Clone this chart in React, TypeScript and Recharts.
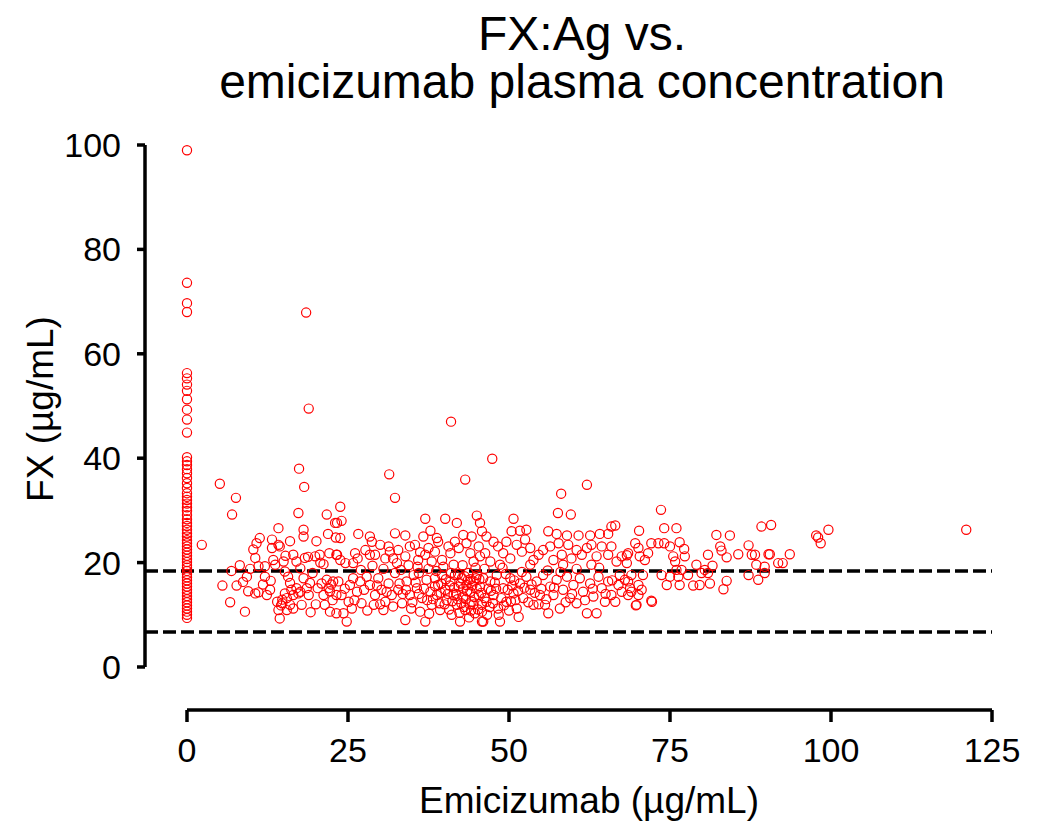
import React from 'react';
import {
  ScatterChart,
  Scatter,
  XAxis,
  YAxis,
  ReferenceLine,
} from 'recharts';

// tick labels
const xTicks = [0, 25, 50, 75, 100, 125];
const yTicks = [0, 20, 40, 60, 80, 100];

// reference range (dashed lines)
const upperLimit = 18.4;
const lowerLimit = 6.7;

// FX values of patients with no emicizumab (x = 0)
const baselineFX = [
  99.0, 73.6, 69.7, 68.0, 56.3, 55.3, 54.1, 52.9, 51.3, 49.3, 47.4, 44.9, 40.2, 39.4, 38.7,
  37.9, 37.1, 36.2, 35.2, 34.3, 33.3, 32.6, 32.0, 31.3, 30.6, 29.9, 29.1, 28.3, 27.6, 27.0,
  26.3, 25.6, 25.0, 24.3, 23.7, 23.1, 22.5, 21.9, 21.3, 20.7, 20.1, 19.5, 19.0, 18.4, 17.8,
  17.2, 16.6, 16.0, 15.4, 14.8, 14.2, 13.6, 13.0, 12.4, 11.8, 11.2, 10.6, 10.0, 9.4,
];

// [emicizumab, FX] for samples under treatment
const treatedPairs: [number, number][] = [
  [2.3, 23.4], [5.1, 35.1], [7.6, 32.4], [7.0, 29.2], [18.5, 67.9], [18.9, 49.5], [17.4, 38.0],
  [18.2, 34.5], [31.4, 36.9], [32.3, 32.4], [41.0, 47.0], [43.2, 35.9], [47.4, 39.9], [58.1, 33.2],
  [62.1, 34.9], [73.6, 30.1], [121.0, 26.3], [99.6, 26.3],
  [5.5, 15.6], [6.7, 12.4], [9.0, 10.6], [6.9, 18.4], [7.7, 15.6], [8.7, 16.3], [9.5, 14.5],
  [9.3, 17.3], [10.3, 22.5], [10.6, 20.9], [10.8, 23.7], [11.3, 24.7], [11.1, 19.3], [10.6, 14.1],
  [11.1, 14.3], [12.1, 19.3], [12.1, 17.3], [12.4, 13.8], [12.9, 14.8], [13.2, 24.4], [13.2, 22.8],
  [13.4, 20.5], [13.7, 19.6], [14.2, 26.6], [14.2, 23.4], [14.0, 12.5], [14.2, 10.9], [14.4, 9.3],
  [14.6, 11.8], [14.8, 12.9], [15.2, 14.1], [14.4, 23.1], [15.0, 20.2], [15.2, 18.3], [15.3, 21.3],
  [15.7, 17.3], [16.0, 24.1], [16.0, 16.1], [16.2, 14.8], [16.5, 21.5], [16.5, 13.8], [17.0, 20.2],
  [17.3, 29.5], [17.6, 18.9], [17.6, 14.4], [17.8, 11.9], [18.1, 26.3], [18.1, 25.0], [18.1, 17.0],
  [18.3, 20.9], [18.6, 15.1], [18.8, 21.1], [18.9, 13.8], [19.1, 16.1], [19.9, 21.2], [20.1, 24.1],
  [20.3, 15.1], [20.6, 21.5], [20.7, 20.0], [21.2, 19.7], [21.7, 29.2], [21.9, 25.5], [22.1, 21.8],
  [22.2, 14.5], [22.4, 15.8], [22.6, 12.8], [23.0, 27.6], [23.1, 24.8], [23.2, 10.3], [23.2, 21.5],
  [23.8, 30.7], [21.2, 13.8], [21.4, 11.9], [22.0, 15.1], [22.2, 10.6], [22.7, 16.4], [23.2, 13.8],
  [20.9, 16.0], [21.7, 16.7], [14.8, 12.2], [15.5, 13.2], [16.0, 11.9], [17.0, 15.1], [17.3, 14.1],
  [16.5, 11.2], [15.5, 10.9], [19.5, 18.0], [20.0, 12.0], [19.2, 10.5], [13.0, 16.5], [11.8, 15.8],
  [9.8, 18.8], [8.2, 19.5],
  [24.0, 28.0], [23.3, 27.6], [23.8, 24.7], [26.6, 25.5], [37.0, 28.4], [40.1, 28.4], [41.9, 27.6],
  [45.0, 29.0], [37.8, 26.1], [32.3, 25.6], [33.9, 25.2], [28.4, 25.0], [28.7, 24.0],
  [23.3, 21.5], [23.8, 20.5], [24.6, 19.9], [25.8, 19.9], [26.1, 21.8], [27.7, 22.4], [28.4, 21.5],
  [29.2, 21.5], [30.0, 23.4], [30.8, 20.8], [31.3, 23.1], [31.5, 22.1], [32.6, 19.9], [32.8, 22.4],
  [33.9, 21.2], [34.6, 23.1], [35.4, 23.4], [35.9, 20.5], [36.7, 25.0], [37.0, 21.5], [37.5, 22.8],
  [38.0, 20.2], [38.5, 22.1], [38.8, 24.7], [39.0, 24.0], [39.6, 20.5], [40.6, 23.1], [40.9, 21.8],
  [41.4, 19.6], [41.6, 24.0], [42.2, 22.8], [42.9, 25.3], [43.4, 23.7], [44.0, 21.8], [44.2, 25.0],
  [44.5, 20.2], [45.3, 23.1], [45.8, 26.0], [45.5, 21.2],
  [23.5, 16.4], [24.0, 13.8], [24.3, 10.3], [24.8, 8.7], [25.1, 12.5], [25.6, 11.2], [25.3, 15.7],
  [25.8, 17.0], [26.4, 14.4], [26.9, 16.4], [27.1, 12.2], [27.9, 17.3], [28.4, 15.7], [29.0, 11.9],
  [29.2, 13.8], [29.7, 17.0], [30.2, 14.8], [30.5, 10.9], [30.8, 12.5], [31.3, 16.0], [31.8, 13.8],
  [32.3, 18.0], [32.8, 14.8], [33.4, 12.2], [33.9, 9.0], [34.1, 16.4], [34.6, 13.8], [35.2, 17.6],
  [35.7, 15.1], [36.2, 10.6], [36.5, 13.2], [37.0, 8.7], [37.2, 16.7], [37.8, 14.4], [38.0, 11.9],
  [38.5, 17.0], [38.8, 13.8], [39.0, 15.7], [39.3, 10.9], [39.6, 17.6], [40.1, 14.8], [40.3, 12.8],
  [40.9, 16.4], [41.1, 10.0], [41.4, 13.8], [41.6, 17.6], [41.9, 11.9], [42.2, 15.4], [42.4, 8.7],
  [42.7, 17.0], [42.9, 13.5], [43.2, 10.9], [43.4, 15.7], [43.7, 18.0], [44.0, 14.4], [44.2, 12.5],
  [44.5, 16.4], [44.7, 10.3], [45.0, 17.6], [45.3, 13.8], [45.5, 15.4], [45.8, 11.9], [46.0, 17.0],
  [45.8, 8.7], [39.5, 16.0], [40.5, 14.0], [41.0, 18.0], [42.0, 13.0], [42.5, 16.0], [43.0, 11.5],
  [43.5, 14.5], [44.0, 16.8], [44.5, 12.0], [45.0, 15.0], [41.5, 15.2], [40.0, 12.0], [38.5, 15.5],
  [43.8, 9.5], [42.8, 19.5], [44.8, 19.0], [39.8, 19.2], [37.5, 18.8],
  [34.0, 14.8], [35.0, 12.4], [35.5, 16.2], [36.0, 18.0], [36.8, 15.0], [37.3, 12.8], [37.6, 10.2],
  [38.2, 13.0], [38.7, 18.4], [39.2, 12.2], [39.4, 14.2], [40.2, 16.8], [40.7, 11.0], [40.8, 15.6],
  [41.2, 12.6], [41.8, 14.0], [42.1, 17.8], [42.3, 10.4], [42.6, 12.2], [42.9, 15.0], [43.1, 17.4],
  [43.3, 13.0], [43.6, 16.6], [43.9, 12.0], [44.1, 10.8], [44.3, 15.6], [44.6, 13.4], [44.9, 17.0],
  [45.2, 11.0], [45.4, 16.8], [45.7, 14.2], [46.2, 13.2], [46.6, 10.0], [47.2, 14.6], [47.5, 12.2],
  [48.0, 15.0], [48.4, 10.0], [49.2, 11.8], [49.8, 14.8], [50.3, 12.6], [50.8, 16.6], [51.4, 14.6],
  [52.4, 15.2], [53.0, 12.4], [54.0, 14.2], [54.6, 12.0], [55.8, 13.0], [57.0, 15.2], [58.8, 12.4],
  [59.8, 14.0], [61.8, 12.8], [63.0, 15.0], [65.0, 14.0], [66.0, 16.6],
  [26.0, 12.8], [27.5, 14.8], [28.0, 10.8], [29.5, 15.6], [30.0, 12.0], [31.0, 14.4], [32.0, 11.6],
  [33.0, 16.0], [33.5, 14.0], [34.8, 11.2], [36.0, 14.0], [24.5, 15.0], [27.0, 18.6], [30.5, 18.8],
  [33.2, 18.6], [35.8, 19.2], [28.8, 19.4], [26.5, 20.8], [32.0, 20.8], [36.2, 22.0], [34.4, 19.5],
  [57.6, 29.5], [59.6, 29.2], [50.7, 28.4], [45.5, 27.6], [46.5, 25.0], [50.4, 26.0], [51.7, 26.1],
  [52.7, 26.3], [56.1, 26.0], [57.4, 25.5], [59.0, 25.2], [60.8, 25.2], [62.6, 25.2], [64.1, 25.5],
  [65.4, 25.5], [65.9, 26.9], [66.5, 27.1], [68.3, 21.4],
  [47.6, 24.0], [48.3, 23.1], [49.1, 21.8], [49.6, 24.0], [50.2, 20.8], [51.2, 23.4], [52.0, 22.1],
  [52.5, 24.4], [53.3, 22.8], [53.8, 20.5], [54.6, 21.5], [55.3, 22.4], [56.4, 23.1], [56.9, 20.5],
  [57.7, 23.7], [58.2, 21.5], [59.2, 23.4], [59.7, 20.8], [60.5, 22.4], [61.3, 21.5], [62.1, 22.8],
  [62.8, 23.4], [63.6, 21.2], [64.4, 23.1], [65.4, 21.5], [65.9, 23.1], [66.7, 20.2], [67.5, 21.2],
  [68.3, 19.9], [47.1, 20.2], [46.3, 21.8], [48.6, 19.6], [53.3, 19.6], [58.4, 19.6], [62.8, 19.6],
  [45.8, 10.6], [46.0, 8.7], [46.5, 12.5], [47.1, 16.4], [47.6, 13.8], [48.1, 17.6], [48.3, 11.2],
  [48.6, 8.7], [49.1, 15.1], [49.6, 12.5], [50.2, 17.0], [50.7, 14.1], [51.2, 11.2], [51.5, 9.6],
  [51.7, 16.0], [52.2, 13.2], [52.7, 17.3], [53.3, 14.8], [53.8, 11.9], [54.3, 16.4], [54.8, 13.8],
  [55.3, 17.6], [55.6, 11.9], [56.1, 10.3], [56.4, 15.4], [56.9, 13.8], [57.4, 16.7], [57.9, 11.2],
  [58.4, 14.8], [59.0, 17.3], [59.5, 13.2], [60.0, 15.7], [60.5, 12.2], [61.0, 17.0], [61.5, 14.4],
  [62.1, 10.3], [62.6, 16.0], [63.1, 13.5], [63.6, 10.3], [63.9, 17.3], [64.4, 15.1], [64.9, 12.5],
  [65.4, 16.4], [65.9, 13.8], [66.5, 12.5], [67.0, 15.7], [67.5, 14.4], [68.0, 16.7], [68.5, 13.8],
  [67.2, 17.6], [46.8, 15.0], [47.8, 16.2], [48.8, 13.2], [49.5, 17.8], [50.5, 15.6], [51.0, 12.8],
  [52.0, 18.2], [46.2, 18.8], [49.0, 19.0], [47.0, 11.5], [50.0, 10.8], [53.5, 15.8], [55.0, 15.0],
  [56.0, 18.5], [58.0, 18.2], [60.5, 18.8], [64.0, 19.0],
  [70.2, 26.1], [74.1, 26.6], [76.0, 26.6], [82.2, 25.3], [84.3, 25.2], [89.2, 26.9], [90.7, 27.2],
  [69.6, 23.7], [72.1, 23.7], [73.2, 23.7], [74.1, 23.7], [75.0, 23.1], [76.5, 23.9], [77.2, 22.6],
  [77.3, 21.2], [75.5, 21.2], [75.8, 20.2], [76.0, 18.6], [76.8, 18.6], [71.6, 21.8], [71.1, 20.5],
  [68.5, 21.8], [70.1, 22.8], [70.3, 21.2], [82.8, 23.1], [83.0, 22.3], [80.9, 21.5], [83.8, 21.0],
  [85.6, 21.6], [87.2, 23.3], [87.7, 21.5], [88.2, 21.5], [90.3, 21.6], [79.1, 19.6], [80.4, 18.6],
  [81.6, 19.4], [88.4, 19.6], [89.7, 19.2], [69.0, 17.6], [70.8, 17.6], [73.7, 17.6], [75.0, 17.3],
  [76.3, 17.3], [77.8, 17.6], [79.9, 18.0], [80.9, 18.0], [87.2, 17.6], [88.7, 16.7], [89.7, 18.0],
  [68.5, 16.4], [70.1, 15.7], [74.5, 15.7], [76.5, 15.7], [78.6, 15.6], [79.6, 15.7], [81.2, 16.0],
  [83.8, 16.5], [83.3, 14.9], [69.0, 14.4], [70.1, 13.8], [72.1, 12.7], [69.8, 11.9], [68.8, 15.1],
  [70.6, 14.8], [69.7, 11.8], [72.2, 12.5],
  [97.7, 25.2], [98.0, 24.8], [98.4, 23.7], [93.6, 21.6], [91.8, 19.9], [92.5, 19.9], [90.5, 21.6],
];

const points = [
  ...baselineFX.map((fx) => ({ x: 0, y: fx })),
  ...treatedPairs.map(([x, y]) => ({ x, y })),
];

const FONT = '"Liberation Sans", Arial, sans-serif';
const X_MIN = -6.52;
const Y_MIN = -8.24;

const Ring = (props: any) => (
  <circle cx={props.cx} cy={props.cy} r={4.6} fill="none" stroke="#ff0000" strokeWidth={1.2} />
);

const App = () => {
  return (
    <div style={{ position: 'relative', width: 1033, height: 816, fontFamily: FONT }}>
      <ScatterChart
        width={1033}
        height={816}
        margin={{ top: 137, right: 49, bottom: 34, left: 37 }}
      >
        <XAxis
          type="number"
          dataKey="x"
          domain={[X_MIN, 125]}
          ticks={xTicks}
          interval={0}
          allowDataOverflow
          axisLine={false}
          tickSize={12}
          tickMargin={16}
          height={80}
          tickLine={{ stroke: '#000', strokeWidth: 3.5 }}
          tick={{ fill: '#000', fontSize: 34, fontFamily: FONT }}
        />
        <YAxis
          type="number"
          dataKey="y"
          domain={[Y_MIN, 100]}
          ticks={yTicks}
          interval={0}
          allowDataOverflow
          axisLine={false}
          tickSize={8}
          tickMargin={16}
          width={100}
          tickLine={{ stroke: '#000', strokeWidth: 3.5 }}
          tick={{ fill: '#000', fontSize: 34, fontFamily: FONT }}
        />
        <ReferenceLine
          segment={[{ x: X_MIN, y: 0 }, { x: X_MIN, y: 100 }]}
          stroke="#000"
          strokeWidth={3.5}
          ifOverflow="visible"
        />
        <ReferenceLine
          segment={[{ x: 0, y: Y_MIN }, { x: 125, y: Y_MIN }]}
          stroke="#000"
          strokeWidth={3.5}
          ifOverflow="visible"
        />
        <ReferenceLine y={upperLimit} stroke="#000" strokeWidth={3.5} strokeDasharray="13 5" />
        <ReferenceLine y={lowerLimit} stroke="#000" strokeWidth={3.5} strokeDasharray="13 5" />
        <Scatter data={points} shape={Ring} isAnimationActive={false} />
      </ScatterChart>
      <svg
        width={1033}
        height={816}
        style={{ position: 'absolute', left: 0, top: 0, pointerEvents: 'none' }}
      >
        <text x={574} y={42} textAnchor="middle" fontSize={48} fontFamily={FONT} fill="#000">
          FX:Ag vs.
        </text>
        <text x={574} y={90} textAnchor="middle" fontSize={48} fontFamily={FONT} fill="#000">
          emicizumab plasma concentration
        </text>
        <text x={581} y={805} textAnchor="middle" fontSize={37} fontFamily={FONT} fill="#000">
          Emicizumab (µg/mL)
        </text>
        <text
          transform="translate(45,401) rotate(-90)"
          textAnchor="middle"
          fontSize={37}
          fontFamily={FONT}
          fill="#000"
        >
          FX (µg/mL)
        </text>
      </svg>
    </div>
  );
};

export default App;
